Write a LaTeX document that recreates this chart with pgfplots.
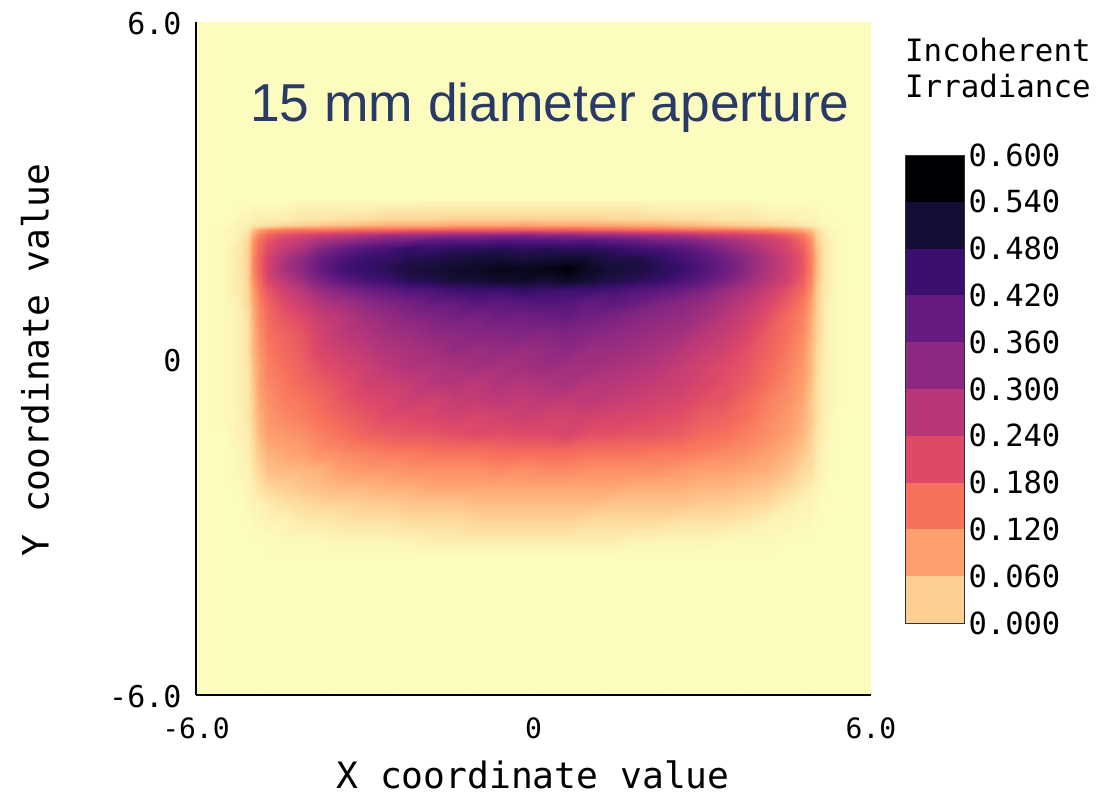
\documentclass[border=0pt]{standalone}
\usepackage{fontspec}
\setmainfont{DejaVu Sans Mono}
\newfontfamily\arialf{Liberation Sans}
\usepackage{pgfplots}
\pgfplotsset{compat=1.18}
\pgfplotsset{colormap={magmar}{rgb255=(252,252,190) rgb255=(254,207,146) rgb255=(254,159,109) rgb255=(247,112,92) rgb255=(222,73,104) rgb255=(183,55,121) rgb255=(140,41,129) rgb255=(100,26,128) rgb255=(59,15,112) rgb255=(20,14,54) rgb255=(0,0,4)}}
\definecolor{cream}{RGB}{252,252,190}
\definecolor{titleblue}{RGB}{42,58,104}
\def\xs{{-5.6,-5.4,-5.22,-5.13,-5.03,-4.93,-4.83,-4.6,-4.3,-4.0,-3.6,-3.2,-2.8,-2.4,-2.0,-1.6,-1.2,-0.8,-0.4,0,0.4,0.8,1.2,1.6,2.0,2.4,2.8,3.2,3.6,4.0,4.35,4.68,4.88,4.98,5.08,5.18,5.28,5.45,5.65}}
\gdef\coords{}
% irradiance values are in units of 0.01
\newcommand\addrow[2]{\foreach \v [count=\i] in {#2}{\pgfmathsetmacro\x{\xs[\i-1]}\xdef\coords{\coords (\x,#1) [\v]}}}
\begin{document}
\begin{tikzpicture}[x=1pt,y=1pt]
\useasboundingbox (0,0) rectangle (1096,793);
\addrow{2.72}{0,0,0,0,0,0,0,0,0,.5,.5,.5,.5,.5,.5,1,1,1,1,1,1,1,1,1,1,.5,.5,.5,.5,.5,0,0,0,0,0,0,0,0,0}
\addrow{2.53}{0,0,0,.5,.5,1,1,1,1,2,2,2,2,3,3,3,3,3,3,3,3,3,3,3,3,2,2,2,2,2,1,1,1,.5,.5,0,0,0,0}
\addrow{2.43}{0,0,.5,1,1,1,2,2,2,3,3,4,4,5,5,5,6,6,6,6,6,6,6,5,5,5,4,4,3,3,2,2,1,1,1,.5,0,0,0}
\addrow{2.33}{0,0,1,1,2,3,3,4,5,6,7,8,9,10,10,10,11,11,11,12,11,11,11,11,10,10,9,8,7,6,5,4,3,2,1,1,.5,0,0}
\addrow{2.24}{0,.5,1,2,3,8,12,15,17,18,18,19,20,20,21,21,22,22,22,22,22,22,21,21,20,20,19,18,18,17,16,14,11,8,4,2,1,.5,0}
\addrow{2.15}{0,.5,1,2,4,11,16,20,23,25,27,29,31,33,34,35,36,36,37,38,36,37,35,35,34,33,32,30,28,26,24,21,17,12,6,3,1,.5,0}
\addrow{2.06}{0,.5,1,3,5,13,18,22,26,28,32,34,37,39,40,42,43,43,44,44,44,43,44,42,41,39,38,36,33,30,27,24,19,14,7,3,2,.5,0}
\addrow{1.88}{0,.5,2,3,6,14,19,24,28,31,37,41,44,46,49,48,50,50,51,50,51,50,50,49,47,46,44,41,37,33,29,25,21,15,8,4,2,.5,0}
\addrow{1.7}{0,.5,2,3.5,6,15,20,26,31,35,41,45,48,49,51,52,53,54,54,53,54,55,54,52,52,50,47,44,40,36,31,27,22,16,9,4,2,.5,0}
\addrow{1.5}{0,.5,2,3.5,6,15,20,26,32,36,42,47,49,51,53,54,55,56,58,57,58,60,56,54,53,51,49,45,41,36,31,27,22,16,9,4,2,.5,0}
\addrow{1.3}{0,.5,2,3,6,14,19,25,29,33,39,43,46,48,51,52,54,54,55,56,54,56,54,52,51,49,46,43,39,34,30,26,21,15,8,4,2,.5,0}
\addrow{1.1}{0,.5,2,3,5,12,17,22,26,29,34,37,40,42,44,45,47,48,47,49,48,47,47,46,44,43,41,38,34,31,27,23,19,14,7,3,2,.5,0}
\addrow{0.9}{0,.5,1,3,5,11,16,20,24,27,31,33,36,38,40,42,42,44,43,44,45,44,42,43,41,39,37,35,32,29,25,21,17,12,7,3,1,.5,0}
\addrow{0.6}{0,.5,1,2,4,10,15,19,22,24,28,30,33,35,37,38,40,39,41,40,41,42,40,39,37,36,35,33,30,27,23,19,16,11,6,3,1,.5,0}
\addrow{0.3}{0,.5,1,2,4,9,14,18,20,22,26,29,31,33,34,36,36,37,37,38,37,38,37,36,35,34,33,30,28,25,21,18,15,10,6,3,1,.5,0}
\addrow{0}{0,.5,1,2,4,9,13,17,19,21,25,27,29,31,32,33,35,34,35,34,35,36,34,34,33,32,30,28,26,23,20,17,14,9,5,3,1,.5,0}
\addrow{-0.3}{0,.5,1,2,3,8,12,16,18,20,23,25,27,29,31,31,32,33,32,33,34,33,33,32,31,30,28,26,24,22,19,16,13,9,5,2,1,.5,0}
\addrow{-0.6}{0,.5,1,2,3,7,12,15,17,19,21,23,26,27,28,30,30,29,31,30,31,32,30,30,29,28,27,25,23,21,18,15,12,8,4,2,1,.5,0}
\addrow{-0.9}{0,.5,1,2,3,6,11,14,16,17,19,22,24,25,27,26,28,28,29,28,29,28,29,28,27,26,25,23,22,19,16,14,11,7,4,2,1,.5,0}
\addrow{-1.2}{0,.5,1,1.5,3,6,10,13,15,16,18,20,22,24,24,25,26,25,26,27,26,26,26,25,25,24,23,21,20,18,15,13,10,7,4,2,1,0,0}
\addrow{-1.5}{0,0,1,1.5,2,5,9,12,13,14,16,18,20,21,22,22,23,24,23,24,24,25,23,23,22,22,21,19,18,16,14,12,9,6,3,2,1,0,0}
\addrow{-1.8}{0,0,.5,1,2,4,7,10,11,12,14,15,16,17,17,18,18,18,19,19,19,19,18,18,18,17,17,16,15,14,12,10,7,5,3,1,.5,0,0}
\addrow{-2.13}{0,0,.5,1,1,3,5,8,9,9,10,12,13,13,14,14,14,14,15,14,15,15,14,14,14,14,13,12,12,11,10,8,5,4,2,1,.5,0,0}
\addrow{-2.45}{0,0,0,.5,1,2,3,5,6,7,8,9,9,10,10,11,11,11,11,11,11,11,11,11,10,10,10,9,9,8,7,5,3,2,1,.5,0,0,0}
\addrow{-2.78}{0,0,0,0,.5,1,1,2,3,4,5,5,6,6,7,7,7,8,8,8,8,8,8,7,7,7,7,6,6,5,4,2,1,1,.5,0,0,0,0}
\addrow{-3.08}{0,0,0,0,0,.5,.5,1,1,2,2,3,3,3,4,4,4,5,5,5,5,5,4,4,4,4,3,3,3,2,1,1,.5,.5,0,0,0,0,0}
\addrow{-3.38}{0,0,0,0,0,0,0,0,.5,.5,.5,1,1,1,1,2,2,2,2,2,2,2,2,2,1,1,1,1,.5,.5,.5,0,0,0,0,0,0,0,0}
\addrow{-3.7}{0,0,0,0,0,0,0,0,0,0,0,0,0,0,0,0,0,0,0,0,0,0,0,0,0,0,0,0,0,0,0,0,0,0,0,0,0,0,0}
\begin{axis}[
  at={(196pt,98pt)}, anchor=south west, scale only axis, width=675pt, height=673pt,
  xmin=-6, xmax=6, ymin=-6, ymax=6,
  axis x line=bottom, axis y line=left,
  axis line style={black, line width=2.7pt, -},
  axis on top,
  axis background/.style={fill=cream},
  xtick={-6,-4.8,-3.6,-2.4,-1.2,0,1.2,2.4,3.6,4.8,6},
  ytick={-6,-4.8,-3.6,-2.4,-1.2,0,1.2,2.4,3.6,4.8,6},
  xticklabels={-6.0,,,,,0,,,,,6.0},
  yticklabels={-6.0,,,,,0,,,,,6.0},
  tick align=inside, major tick length=2.5pt, tick style={white, line width=1pt},
  x tick label style={font=\fontsize{28}{30}\selectfont, text=black, yshift=-19pt},
  y tick label style={font=\fontsize{30}{33}\selectfont, text=black, xshift=-11pt, yshift=-2pt},
  colormap name=magmar, point meta min=0, point meta max=60,
]
\edef\plotcmd{\noexpand\addplot[matrix plot*, shader=interp, mesh/cols=39, point meta=explicit] coordinates {\coords};}
\plotcmd
\end{axis}
\begin{axis}[
  at={(905pt,170pt)}, anchor=south west, scale only axis, width=59pt, height=468pt,
  xmin=0, xmax=1, ymin=0, ymax=0.6,
  xtick=\empty,
  ytick={0,0.06,0.12,0.18,0.24,0.3,0.36,0.42,0.48,0.54,0.6},
  yticklabels={0.000,0.060,0.120,0.180,0.240,0.300,0.360,0.420,0.480,0.540,0.600},
  yticklabel pos=right, major tick length=0pt,
  y tick label style={font=\fontsize{30.5}{33}\selectfont, text=black, xshift=1pt},
  axis line style={black!80, line width=0.8pt},
  axis on top,
]
\addplot[fill={rgb,255:red,254;green,207;blue,146}, draw=none] coordinates {(0,0)(1,0)(1,0.06)(0,0.06)} -- cycle;
\addplot[fill={rgb,255:red,254;green,159;blue,109}, draw=none] coordinates {(0,0.06)(1,0.06)(1,0.12)(0,0.12)} -- cycle;
\addplot[fill={rgb,255:red,247;green,112;blue,92}, draw=none] coordinates {(0,0.12)(1,0.12)(1,0.18)(0,0.18)} -- cycle;
\addplot[fill={rgb,255:red,222;green,73;blue,104}, draw=none] coordinates {(0,0.18)(1,0.18)(1,0.24)(0,0.24)} -- cycle;
\addplot[fill={rgb,255:red,183;green,55;blue,121}, draw=none] coordinates {(0,0.24)(1,0.24)(1,0.30)(0,0.30)} -- cycle;
\addplot[fill={rgb,255:red,140;green,41;blue,129}, draw=none] coordinates {(0,0.30)(1,0.30)(1,0.36)(0,0.36)} -- cycle;
\addplot[fill={rgb,255:red,100;green,26;blue,128}, draw=none] coordinates {(0,0.36)(1,0.36)(1,0.42)(0,0.42)} -- cycle;
\addplot[fill={rgb,255:red,59;green,15;blue,112}, draw=none] coordinates {(0,0.42)(1,0.42)(1,0.48)(0,0.48)} -- cycle;
\addplot[fill={rgb,255:red,20;green,14;blue,54}, draw=none] coordinates {(0,0.48)(1,0.48)(1,0.54)(0,0.54)} -- cycle;
\addplot[fill={rgb,255:red,0;green,0;blue,4}, draw=none] coordinates {(0,0.54)(1,0.54)(1,0.60)(0,0.60)} -- cycle;
\end{axis}
\node[anchor=west, inner sep=0pt, font=\fontsize{30.8}{33}\selectfont] at (905,743) {Incoherent};
\node[anchor=west, inner sep=0pt, font=\fontsize{30.8}{33}\selectfont] at (905,707) {Irradiance};
\node[anchor=west, inner sep=0pt, text=titleblue, font=\arialf\fontsize{53.4}{58}\selectfont] at (250,685) {15 mm diameter aperture};
\node[inner sep=0pt, font=\fontsize{36.3}{40}\selectfont] at (533,18) {X coordinate value};
\node[inner sep=0pt, rotate=90, font=\fontsize{36.3}{40}\selectfont] at (35,433) {Y coordinate value};
\end{tikzpicture}
\end{document}
